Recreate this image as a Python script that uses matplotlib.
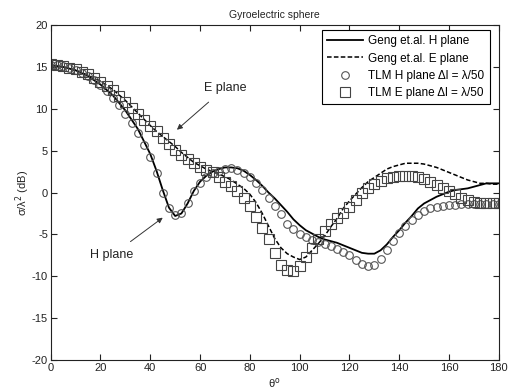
import matplotlib
matplotlib.use("Agg")
import matplotlib.pyplot as plt
import numpy as np

plt.rcParams['font.family'] = ['Liberation Sans', 'DejaVu Sans']
plt.rcParams['axes.unicode_minus'] = False

# Geng et al. curves (theoretical)
theta_line = [0, 5, 10, 15, 20, 25, 30, 35, 40, 42.5, 45, 47.5, 50, 52.5, 55, 57.5, 60,
              62.5, 65, 67.5, 70, 72.5, 75, 77.5, 80, 82.5, 85, 87.5, 90, 92.5, 95, 97.5,
              100, 102.5, 105, 107.5, 110, 112.5, 115, 117.5, 120, 122.5, 125, 127.5, 130,
              132.5, 135, 137.5, 140, 142.5, 145, 147.5, 150, 152.5, 155, 157.5, 160, 162.5,
              165, 167.5, 170, 172.5, 175, 177.5, 180]
geng_h = [15.2, 15.0, 14.6, 13.9, 12.9, 11.6, 9.8, 7.6, 4.6, 2.6, 0.3, -1.8, -2.8, -2.5,
          -1.3, 0.2, 1.3, 2.0, 2.5, 2.8, 3.0, 3.0, 2.9, 2.6, 2.1, 1.5, 0.8, 0.0, -0.7, -1.5,
          -2.3, -3.2, -3.9, -4.5, -4.9, -5.3, -5.6, -5.8, -6.0, -6.3, -6.6, -6.9, -7.2, -7.3,
          -7.3, -6.9, -6.2, -5.3, -4.5, -3.6, -2.8, -1.9, -1.3, -0.9, -0.5, -0.2, 0.1, 0.3,
          0.4, 0.5, 0.7, 0.9, 1.1, 1.1, 1.1]
geng_e = [15.2, 15.0, 14.6, 14.0, 13.3, 12.3, 11.0, 9.5, 8.0, 7.3, 6.7, 6.1, 5.5, 4.8,
          4.2, 3.6, 3.2, 2.8, 2.5, 2.2, 1.9, 1.5, 1.0, 0.5, -0.2, -1.2, -2.5, -4.0, -5.5,
          -6.6, -7.3, -7.7, -8.0, -7.7, -6.9, -6.1, -5.2, -4.1, -3.1, -1.9, -1.0, -0.2, 0.6,
          1.3, 1.8, 2.3, 2.8, 3.1, 3.3, 3.5, 3.5, 3.5, 3.4, 3.2, 3.0, 2.7, 2.4, 2.1, 1.8,
          1.5, 1.3, 1.1, 1.1, 1.0, 1.0]

# TLM results (markers)
theta_tlm = [0, 2.5, 5, 7.5, 10, 12.5, 15, 17.5, 20, 22.5, 25, 27.5, 30, 32.5, 35, 37.5,
             40, 42.5, 45, 47.5, 50, 52.5, 55, 57.5, 60, 62.5, 65, 67.5, 70, 72.5, 75, 77.5,
             80, 82.5, 85, 87.5, 90, 92.5, 95, 97.5, 100, 102.5, 105, 107.5, 110, 112.5, 115,
             117.5, 120, 122.5, 125, 127.5, 130, 132.5, 135, 137.5, 140, 142.5, 145, 147.5,
             150, 152.5, 155, 157.5, 160, 162.5, 165, 167.5, 170, 172.5, 175, 177.5, 180]
tlm_h = [15.2, 15.2, 15.1, 14.9, 14.6, 14.3, 13.9, 13.4, 12.8, 12.1, 11.3, 10.4, 9.4, 8.3,
         7.1, 5.7, 4.2, 2.3, 0.0, -1.8, -2.7, -2.4, -1.2, 0.2, 1.1, 1.8, 2.3, 2.6, 2.8, 2.9,
         2.7, 2.3, 1.8, 1.2, 0.3, -0.6, -1.6, -2.6, -3.7, -4.3, -4.9, -5.3, -5.7, -5.9, -6.1,
         -6.4, -6.7, -7.1, -7.5, -8.0, -8.5, -8.8, -8.6, -7.9, -6.9, -5.8, -4.8, -4.0, -3.3,
         -2.7, -2.2, -1.9, -1.7, -1.6, -1.5, -1.5, -1.4, -1.4, -1.4, -1.4, -1.4, -1.4, -1.4]
tlm_e = [15.3, 15.2, 15.1, 14.9, 14.7, 14.4, 14.1, 13.7, 13.2, 12.7, 12.2, 11.5, 10.8, 10.1,
         9.4, 8.7, 8.0, 7.3, 6.5, 5.8, 5.1, 4.5, 4.0, 3.5, 3.1, 2.7, 2.4, 1.9, 1.3, 0.8, 0.2,
         -0.6, -1.6, -2.9, -4.2, -5.6, -7.2, -8.6, -9.2, -9.4, -8.8, -7.7, -6.6, -5.6, -4.6,
         -3.7, -3.0, -2.4, -1.7, -0.9, -0.1, 0.5, 1.0, 1.4, 1.7, 1.8, 1.95, 2.0, 2.0, 1.8,
         1.6, 1.3, 0.9, 0.5, 0.2, -0.2, -0.6, -0.9, -1.1, -1.2, -1.3, -1.3, -1.3]

x_ticks = [0, 20, 40, 60, 80, 100, 120, 140, 160, 180]
y_ticks = [-20, -15, -10, -5, 0, 5, 10, 15, 20]

fig = plt.figure(figsize=(5.09, 3.92), dpi=100)
ax = fig.add_axes([0.0996, 0.0816, 0.8804, 0.8544])

ax.plot(theta_line, geng_h, '-', color='black', lw=1.3, label='Geng et.al. H plane')
ax.plot(theta_line, geng_e, '--', color='black', lw=1.1, dashes=(3, 1.5), label='Geng et.al. E plane')
ax.plot(theta_tlm, tlm_h, 'o', mfc='none', mec='#555555', ms=5.5, mew=0.8,
        label='TLM H plane \u0394l = \u03bb/50')
ax.plot(theta_tlm, tlm_e, 's', mfc='none', mec='#444444', ms=6.5, mew=0.8,
        label='TLM E plane \u0394l = \u03bb/50')

ax.set_xlim(0, 180)
ax.set_ylim(-20, 20)
ax.set_xticks(x_ticks)
ax.set_yticks(y_ticks)
ax.tick_params(direction='in', top=True, right=True, length=4, width=0.8,
               labelsize=8, colors='#222222', pad=2)
for s in ax.spines.values():
    s.set_linewidth(0.8)
    s.set_color('#222222')

ax.set_title('Gyroelectric sphere', fontsize=7.5, color='#222222', pad=5)
ax.set_xlabel('\u03b8$^{\\rm o}$', fontsize=8, color='#222222', labelpad=2)
ax.set_ylabel('\u03c3/\u03bb$^2$ (dB)', fontsize=8, color='#222222', labelpad=0)

leg = ax.legend(loc='upper right', bbox_to_anchor=(0.980, 0.985), fontsize=8.5,
                frameon=True, fancybox=False, edgecolor='black', framealpha=1,
                borderaxespad=0, handlelength=3.0, handletextpad=0.5,
                labelspacing=0.44, borderpad=0.45)
leg.get_frame().set_linewidth(0.8)

ax.annotate('E plane', xy=(50.7, 7.5), xytext=(70, 12.5), fontsize=9, color='#222222',
            ha='center', va='center',
            arrowprops=dict(arrowstyle='-|>', color='#333333', lw=0.7,
                            mutation_scale=8, shrinkA=6, shrinkB=0))
ax.annotate('H plane', xy=(45, -3.0), xytext=(24.6, -7.5), fontsize=9, color='#222222',
            ha='center', va='center',
            arrowprops=dict(arrowstyle='-|>', color='#333333', lw=0.7,
                            mutation_scale=8, shrinkA=6, shrinkB=0))

fig.savefig('out.png', dpi=100)
